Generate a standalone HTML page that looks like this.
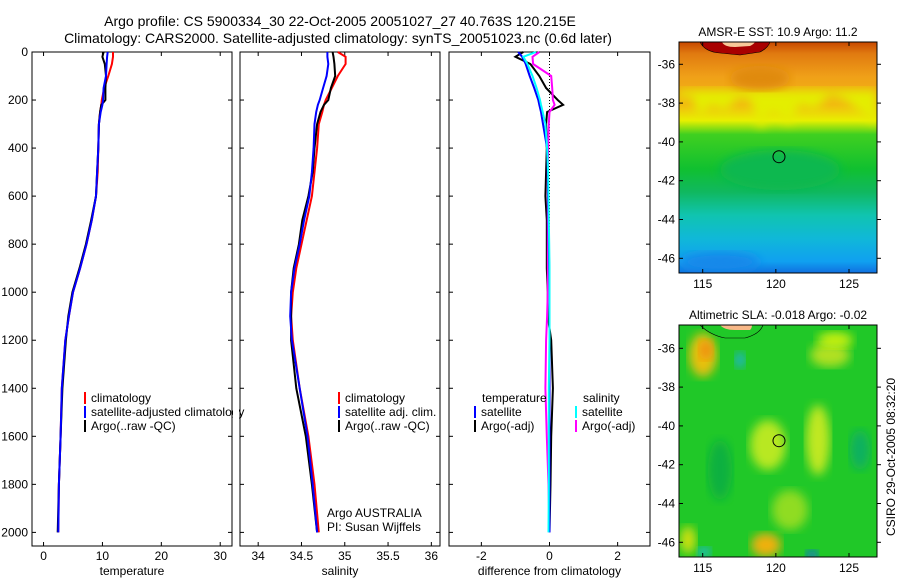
<!DOCTYPE html>
<html><head><meta charset="utf-8"><style>
body{margin:0;background:#fff}
svg{display:block;font-family:"Liberation Sans",sans-serif;font-size:12px}
</style></head><body>
<svg id="fig" width="900" height="580" viewBox="0 0 900 580">
<defs>
<linearGradient id="sstg" x1="0" y1="0" x2="0" y2="1">
<stop offset="0" stop-color="#c84800"/><stop offset="0.05" stop-color="#e07a10"/>
<stop offset="0.15" stop-color="#f0a018"/><stop offset="0.27" stop-color="#f2b810"/>
<stop offset="0.34" stop-color="#e8f000"/><stop offset="0.40" stop-color="#40d020"/>
<stop offset="0.55" stop-color="#10c030"/><stop offset="0.65" stop-color="#10b860"/>
<stop offset="0.75" stop-color="#10c4b0"/><stop offset="0.85" stop-color="#10b8d8"/>
<stop offset="0.95" stop-color="#10a0f0"/><stop offset="1" stop-color="#1070e0"/>
</linearGradient>
<filter id="bl"><feGaussianBlur stdDeviation="5"/></filter>
<clipPath id="c1"><rect x="679" y="42" width="198" height="231"/></clipPath>
<clipPath id="c2"><rect x="679" y="325" width="198" height="232"/></clipPath>
</defs>
<g id="plots"></g>
</svg>
<script>
const depths=[0,20,50,100,150,200,220,250,300,400,500,600,700,800,900,1000,1100,1200,1400,1600,1800,2000];
const tempClim=[11.8,11.8,11.6,11.0,10.3,9.9,9.8,9.6,9.4,9.3,9.2,8.9,8.2,7.3,6.2,5.0,4.3,3.7,3.1,2.9,2.6,2.5];
const tempSat=[10.9,10.8,10.7,10.6,10.2,10.1,10.0,9.7,9.4,9.3,9.1,8.9,8.2,7.3,6.2,5.0,4.3,3.7,3.1,2.9,2.6,2.5];
const tempArgo=[10.2,10.0,10.4,10.6,10.5,10.5,9.8,9.6,9.4,9.3,9.1,8.9,8.1,7.2,6.1,4.9,4.2,3.8,3.2,2.9,2.6,2.4];
const salClim=[34.92,35.01,35.01,34.92,34.85,34.78,34.76,34.74,34.70,34.68,34.65,34.62,34.56,34.50,34.44,34.40,34.38,34.40,34.48,34.58,34.65,34.70];
const salSat=[34.80,34.80,34.81,34.79,34.75,34.71,34.69,34.67,34.65,34.64,34.62,34.59,34.53,34.48,34.42,34.38,34.37,34.39,34.48,34.57,34.63,34.68];
const salArgo=[34.86,34.87,34.88,34.89,34.84,34.81,34.76,34.72,34.68,34.65,34.63,34.58,34.51,34.47,34.41,34.38,34.38,34.38,34.44,34.55,34.62,34.68];
const dTempSat=[-0.92,-0.80,-0.70,-0.58,-0.45,-0.33,-0.30,-0.25,-0.19,-0.07,-0.05,-0.04,-0.03,-0.02,-0.01,0,0,0,0,0,0,0];
const dTempArgo=[-0.77,-1.0,-0.56,-0.3,-0.1,0.24,0.4,-0.07,-0.1,-0.08,-0.1,-0.12,-0.08,-0.08,-0.08,-0.05,-0.05,0.05,0.1,0.05,0.03,0];
const dSalSat=[-0.40,-0.77,-0.65,-0.50,-0.38,-0.28,-0.25,-0.2,-0.12,-0.07,-0.04,-0.03,-0.02,-0.01,0,0,0,0,-0.02,-0.02,-0.02,-0.03];
const dSalArgo=[-0.30,-0.50,-0.48,0.05,0.08,0.10,0.15,0,-0.02,-0.04,-0.05,-0.05,-0.05,-0.05,-0.05,-0.05,-0.07,-0.1,-0.12,-0.08,-0.03,0];
const depthTicks=[0,200,400,600,800,1000,1200,1400,1600,1800,2000];
const tempTicks=[0,10,20,30];
const salTicks=[34,34.5,35,35.5,36];
const salTickLabels=["34","34.5","35","35.5","36"];
const diffTicks=[-2,0,2];
const lonTicks=[115,120,125];
const latTicks=[-36,-38,-40,-42,-44,-46];
const argoLon=120.215, argoLat=-40.763;

const NS="http://www.w3.org/2000/svg";
const root=document.getElementById('plots');
function mk(tag,at,parent){const e=document.createElementNS(NS,tag);for(const k in at)e.setAttribute(k,at[k]);(parent||root).appendChild(e);return e;}
function txt(x,y,s,anchor,parent){const t=mk('text',{x:x,y:y,'text-anchor':anchor||'start',fill:'#000'},parent);t.textContent=s;return t;}
const Y0=52,Y1=546;
const yD=d=>Y0+(d/2040)*(Y1-Y0-4)*1.0;
function lin(d0,d1,p0,p1){return v=>p0+(v-d0)/(d1-d0)*(p1-p0);}

function panel(name,x0,x1,xs,ticks,labels,label,showY){
  const g=mk('g',{});
  
  
  const fr=mk('rect',{x:x0,y:Y0,width:x1-x0,height:Y1-Y0,fill:'none',stroke:'#000','stroke-width':1},g);
  
  
  depthTicks.forEach(d=>{
    mk('line',{x1:x0,x2:x0+4,y1:yD(d),y2:yD(d),stroke:'#000'},g);
    mk('line',{x1:x1-4,x2:x1,y1:yD(d),y2:yD(d),stroke:'#000'},g);
    if(showY){const t=txt(x0-4,yD(d)+4,String(d),'end',g);}
  });
  ticks.forEach((v,i)=>{
    const x=xs(v);
    mk('line',{x1:x,x2:x,y1:Y1,y2:Y1-4,stroke:'#000'},g);
    mk('line',{x1:x,x2:x,y1:Y0,y2:Y0+4,stroke:'#000'},g);
    const t=txt(x,560,labels[i],'middle',g);
    
    
  });
  const xl=txt((x0+x1)/2,575,label,'middle',g);
  
  
  return g;
}
function line(g,xs,vals,color,name,w){
  const pts=vals.map((v,i)=>xs(v).toFixed(1)+','+yD(depths[i]).toFixed(1)).join(' ');
  const p=mk('polyline',{points:pts,fill:'none',stroke:color,'stroke-width':w||2},g);
  
  
}
function legend(g,x,y,items){
  items.forEach((it,i)=>{
    const yy=y+i*14;
    mk('rect',{x:x,y:yy-10,width:2,height:12,fill:it[1]},g);
    const t=txt(x+7,yy,it[0],'start',g);
    
    
  });
}

const xT=lin(-1.96,32,32,232);
const g1=panel('temperature-panel',32,232,xT,tempTicks,tempTicks.map(String),'temperature',true);
line(g1,xT,tempClim,'#f00','temp-climatology-line');
line(g1,xT,tempArgo,'#000','temp-argo-line');
line(g1,xT,tempSat,'#00f','temp-satellite-line');
legend(g1,84,402,[['climatology','#f00'],['satellite-adjusted climatology','#00f'],['Argo(..raw -QC)','#000']]);
mk('rect',{x:233,y:380,width:6,height:60,fill:'#fff'});

const xS=lin(33.79,36.1,240,440);
const g2=panel('salinity-panel',240,440,xS,salTicks,salTickLabels,'salinity',false);
line(g2,xS,salClim,'#f00','sal-climatology-line');
line(g2,xS,salArgo,'#000','sal-argo-line');
line(g2,xS,salSat,'#00f','sal-satellite-line');
legend(g2,338,402,[['climatology','#f00'],['satellite adj. clim.','#00f'],['Argo(..raw -QC)','#000']]);
const a1=txt(327,517,'Argo AUSTRALIA','start',g2);
const a2=txt(327,531,'PI: Susan Wijffels','start',g2);

const xDf=lin(-2.95,2.95,449,650);
const g3=panel('difference-panel',449,650,xDf,diffTicks,diffTicks.map(String),'difference from climatology',false);
mk('line',{x1:xDf(0),x2:xDf(0),y1:Y0,y2:Y1-14,stroke:'#000','stroke-dasharray':'1,2'},g3);
line(g3,xDf,dTempArgo,'#000','diff-temp-argo-line');
line(g3,xDf,dSalArgo,'#f0f','diff-sal-argo-line');
line(g3,xDf,dTempSat,'#00f','diff-temp-satellite-line');
line(g3,xDf,dSalSat,'#0ff','diff-sal-satellite-line');
const th=txt(482,402,'temperature','start',g3);
const sh=txt(583,402,'salinity','start',g3);
legend(g3,474,416,[['satellite','#00f'],['Argo(-adj)','#000']]);
legend(g3,575,416,[['satellite','#0ff'],['Argo(-adj)','#f0f']]);

const t1=txt(340,26,'Argo profile: CS 5900334_30 22-Oct-2005 20051027_27 40.763S 120.215E','middle');
t1.setAttribute('font-size','14');
const t2=txt(338,43,'Climatology: CARS2000. Satellite-adjusted climatology: synTS_20051023.nc (0.6d later)','middle');
t2.setAttribute('font-size','14');

function mapAxes(g,top,bot,title){
  const xL=lin(115,125,702.7,849);
  const lat0=top===42?64.3:348.3;
  const yL=v=>lat0+(-36-v)*19.4;
  lonTicks.forEach(v=>{
    mk('line',{x1:xL(v),x2:xL(v),y1:top,y2:top+4,stroke:'#000'},g);
    mk('line',{x1:xL(v),x2:xL(v),y1:bot,y2:bot-4,stroke:'#000'},g);
    const t=txt(xL(v),bot+15,String(v),'middle',g);
  });
  latTicks.forEach(v=>{
    mk('line',{x1:877,x2:881,y1:yL(v),y2:yL(v),stroke:'#000'},g);
    mk('line',{x1:679,x2:683,y1:yL(v),y2:yL(v),stroke:'#000'},g);
    const t=txt(675,yL(v)+4,String(v),'end',g);
  });
  const c=mk('circle',{cx:xL(argoLon),cy:yL(argoLat),r:6,fill:'none',stroke:'#000'},g);
  
  const f=mk('rect',{x:679,y:top,width:198,height:bot-top,fill:'none',stroke:'#000'},g);
  
  const tt=txt(778,top-6,title,'middle',g);
}
const m1=mk('g',{});


const m1c=mk('g',{'clip-path':'url(#c1)'},m1);
mk('rect',{x:679,y:42,width:198,height:231,fill:'url(#sstg)'},m1c);
mk('path',{d:'M679,100 L690,95 L700,118 L712,105 L725,112 L738,98 L750,100 L760,130 L772,112 L790,125 L800,105 L815,110 L830,95 L845,100 L860,112 L877,125 L877,90 L679,90Z',fill:'#e4ee00',filter:'url(#bl)'},m1c);
mk('ellipse',{cx:760,cy:78,rx:30,ry:12,fill:'#e08a10',filter:'url(#bl)'},m1c);
mk('ellipse',{cx:780,cy:170,rx:60,ry:20,fill:'#10b850',filter:'url(#bl)'},m1c);
mk('ellipse',{cx:720,cy:262,rx:40,ry:10,fill:'#1488ea',filter:'url(#bl)'},m1c);
mk('path',{d:'M700,42 Q705,52 720,53 L740,55 L760,52 Q768,48 770,42Z',fill:'#a80000',stroke:'#000','stroke-width':0.6},m1c);
mk('path',{d:'M722,42 Q724,47 735,47 L750,46 Q754,44 755,42Z',fill:'#f8c898'},m1c);
mapAxes(m1,42,273,'AMSR-E SST: 10.9 Argo: 11.2');

const m2=mk('g',{});


const m2c=mk('g',{'clip-path':'url(#c2)'},m2);
mk('rect',{x:679,y:325,width:198,height:232,fill:'#20c828'},m2c);
[[703,355,14,22,'#e8c010'],[706,350,7,10,'#f09010'],[768,445,18,25,'#b8e820'],[818,440,12,35,'#c0e820'],[830,355,20,12,'#b0e020'],[835,340,18,8,'#c8f010'],[766,545,15,12,'#f0b010'],[790,510,18,20,'#90dc20'],[740,360,5,8,'#20b0e0'],[812,555,6,5,'#1060f0'],[704,552,7,5,'#20b8e0'],[688,540,8,14,'#d0e010'],[720,470,12,30,'#10b040'],[860,450,10,20,'#10b060']].forEach(b=>{
  mk('ellipse',{cx:b[0],cy:b[1],rx:b[2],ry:b[3],fill:b[4],filter:'url(#bl)'},m2c);
});
mk('path',{d:'M700,325 Q710,335 725,338 L745,338 Q760,334 763,325Z',fill:'#20c828',stroke:'#000','stroke-width':0.6},m2c);
mk('path',{d:'M720,325 Q724,330 735,330 L750,330 Q752,328 752,325Z',fill:'#f8b888'},m2c);
mapAxes(m2,325,557,'Altimetric SLA: -0.018 Argo: -0.02');
const cs=txt(0,0,'CSIRO 29-Oct-2005 08:32:20','middle');
cs.setAttribute('transform','translate(895,457) rotate(-90)');


</script>
</body></html>
